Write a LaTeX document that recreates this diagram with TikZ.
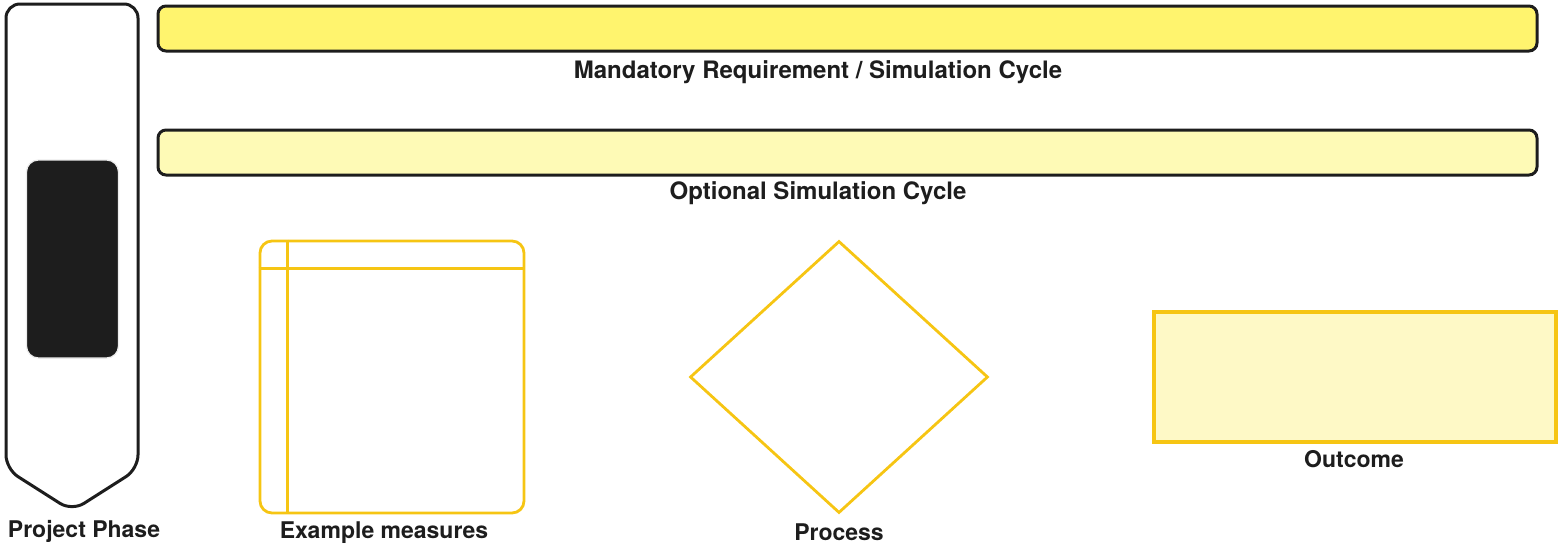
\documentclass[tikz,border=0pt]{standalone}
\usepackage{fontspec}
\setmainfont{TeX Gyre Heros}
\usetikzlibrary{shapes.geometric}

\definecolor{ink}{HTML}{1D1D1D}
\definecolor{gold}{HTML}{F6C513}
\definecolor{mandyellow}{HTML}{FFF46E}
\definecolor{optyellow}{HTML}{FEFAB6}
\definecolor{outyellow}{HTML}{FEF9C6}

\tikzset{
  legendlabel/.style={font=\fontsize{11.5}{13}\selectfont\bfseries, text=ink, inner sep=0pt, anchor=base},
  barlabel/.style={legendlabel, font=\fontsize{12}{14}\selectfont\bfseries},
  cyclebar/.style={draw=ink, line width=1.5pt, rounded corners=4pt,
    minimum width=689.5pt, minimum height=22.5pt, inner sep=0pt},
  goldshape/.style={draw=gold, line width=1.4pt, inner sep=0pt},
}

\begin{document}
\begin{tikzpicture}[x=0.5pt,y=-0.5pt]
  \useasboundingbox (0,0) rectangle (1560,557);

  % phase marker
  \draw[ink, line width=1.5pt, fill=white, rounded corners=7pt]
    (6,469) -- (6,4) -- (138,4) -- (138,469) -- (72,511) -- cycle;
  \draw[gray!15, line width=0.6pt, fill=ink, rounded corners=6pt]
    (26.5,160) rectangle (118.5,358);
  \node[legendlabel] (phaselabel) at (84,537) {Project Phase};

  % simulation cycles
  \node[cyclebar, fill=mandyellow] (mandbar) at (847.5,28.5) {};
  \node[barlabel] (mandlabel) at (818,78) {Mandatory Requirement / Simulation Cycle};
  \node[cyclebar, fill=optyellow] (optbar) at (847.5,152.5) {};
  \node[barlabel] (optlabel) at (818,199) {Optional Simulation Cycle};

  % measures
  \node[goldshape, rounded corners=6pt, minimum width=132pt, minimum height=136pt] (measures) at (392,377) {};
  \draw[gold, line width=1.4pt]
    ([xshift=14.5pt]measures.north west) -- ([xshift=14.5pt]measures.south west)
    ([yshift=-14.5pt]measures.north west) -- ([yshift=-14.5pt]measures.north east);
  \node[legendlabel] (measlabel) at (384,538) {Example measures};

  % process
  \node[goldshape, diamond, minimum width=149pt, minimum height=136pt] (process) at (839,377) {};
  \node[legendlabel] (proclabel) at (839,540) {Process};

  % outcome
  \node[goldshape, line width=2pt, fill=outyellow, minimum width=201pt, minimum height=65pt] (outcome) at (1355,377) {};
  \node[legendlabel] (outlabel) at (1354,467) {Outcome};
\end{tikzpicture}
\end{document}
